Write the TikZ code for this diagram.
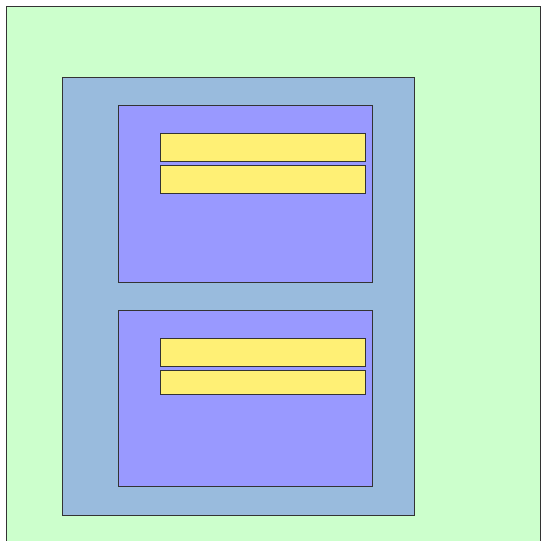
\documentclass[tikz,border=0pt]{standalone}
\usepackage{xcolor}
\usepackage{tikz}
\usetikzlibrary{positioning}

\definecolor{pagegreen}{HTML}{CCFFCC}
\definecolor{frameblue}{HTML}{99BBDD}
\definecolor{cardviolet}{HTML}{9999FF}
\definecolor{baryellow}{HTML}{FFF075}

\begin{document}
\begin{tikzpicture}[x=1pt, y=-1pt, line width=1pt,
      blk/.style={draw=black!80, inner sep=0pt, outer sep=0pt, anchor=north west},
      page/.style={blk, fill=pagegreen, minimum width=534pt, minimum height=545pt},
      frame/.style={blk, fill=frameblue, minimum width=352pt, minimum height=438pt},
      card/.style={blk, fill=cardviolet, minimum width=254pt, minimum height=177pt},
      bar/.style={blk, fill=baryellow, minimum width=205pt, minimum height=28pt}]
      \useasboundingbox (0,0) rectangle (541,541);
      \clip (0,0) rectangle (541,541);
      \node[page]  (page)  at (6,6)     {};
      \node[frame] (frame) at (62,77)   {};
      \node[card]  (top)   at (118,105) {};
      \node[bar]   (t1)    at (160,133) {};
      \node[bar]   (t2)    at (160,165) {};
      \node[card, minimum height=176pt] (bot) at (118,310) {};
      \node[bar]   (b1)    at (160,338) {};
      \node[bar, minimum height=24pt] (b2) at (160,370) {};
    \end{tikzpicture}
\end{document}
